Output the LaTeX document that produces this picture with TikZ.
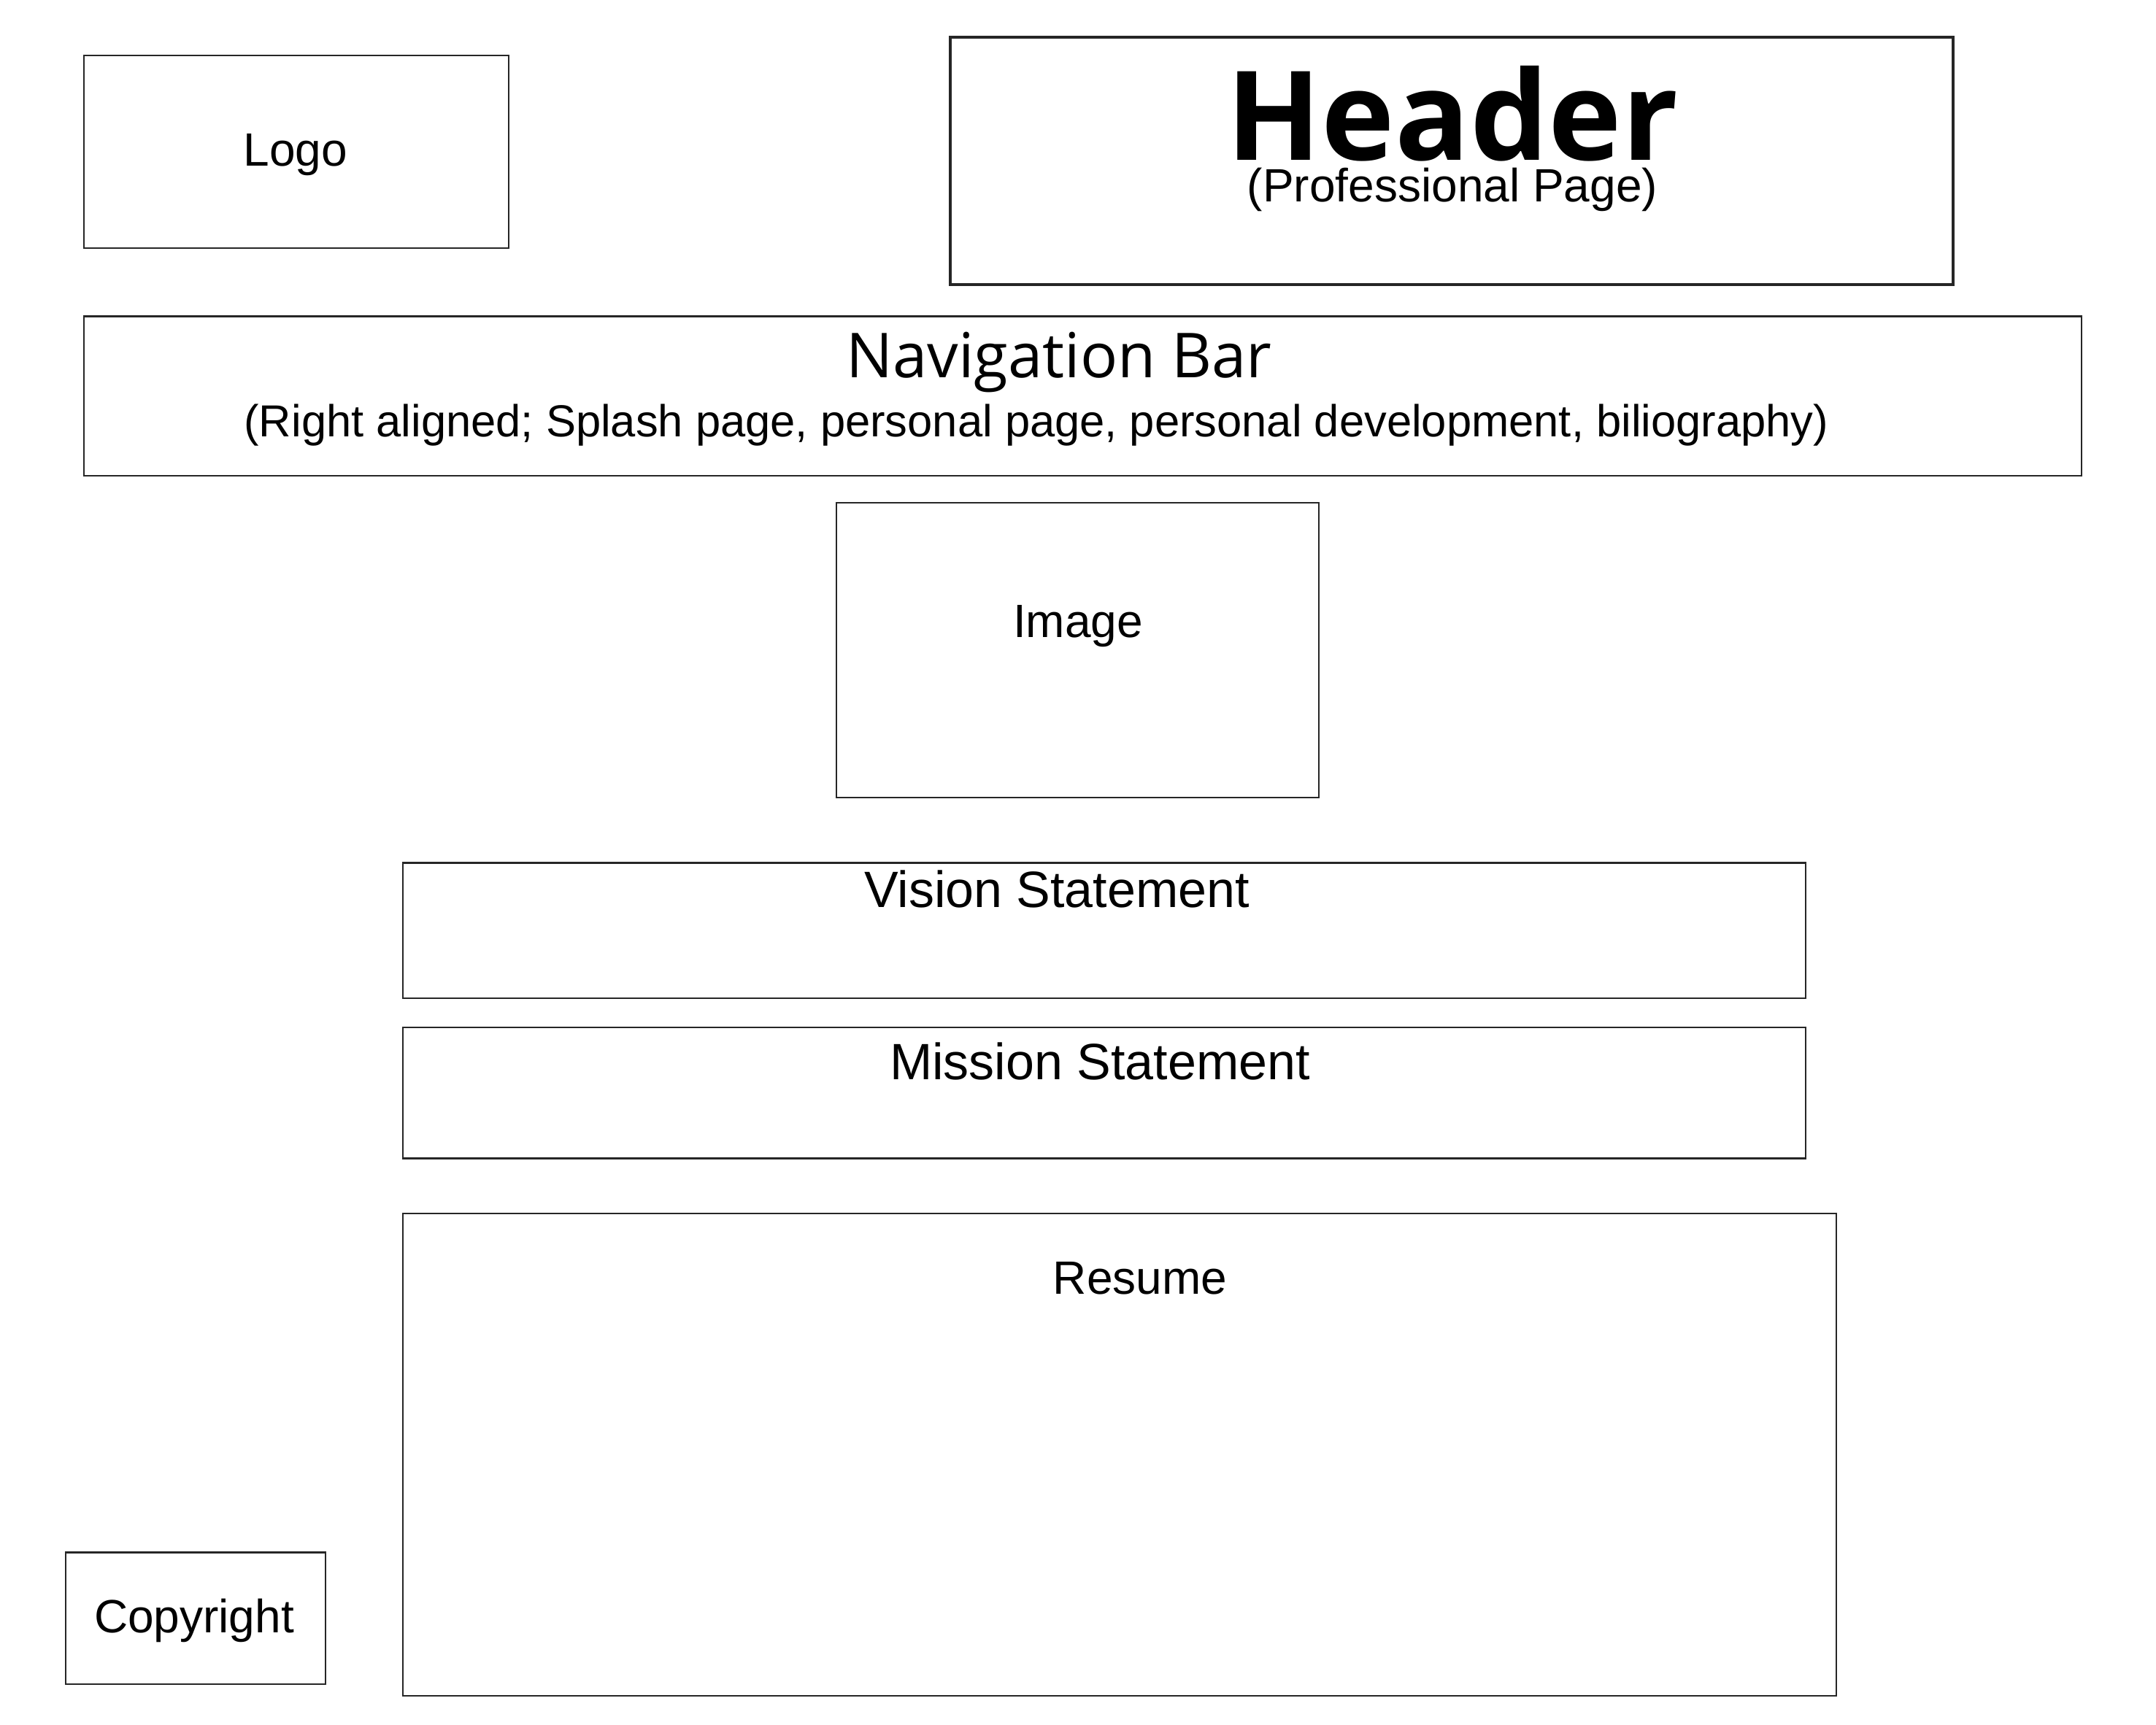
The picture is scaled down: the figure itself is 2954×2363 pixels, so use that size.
\documentclass[tikz,border=0pt]{standalone}
\usepackage{fontspec}
\setmainfont{Liberation Sans}
\newfontfamily\opensans{Open Sans}
\begin{document}
\begin{tikzpicture}[x=1pt,y=-1pt,
  wbox/.style={draw=black!85, line width=2.5pt, rectangle, inner sep=0pt, outer sep=0pt},
  lbl/.style={anchor=base, inner sep=0pt, outer sep=0pt, font=\fontsize{64}{76}\selectfont},
  stmt/.style={anchor=base, inner sep=0pt, outer sep=0pt, font=\fontsize{70}{84}\selectfont}]
\useasboundingbox (0,0) rectangle (2954,2363);
\fill[white] (0,0) rectangle (2954,2363);

% layout boxes
\node[wbox, minimum width=582pt, minimum height=264pt] (logo) at (406,208) {};
\node[wbox, line width=3.5pt, minimum width=1374pt, minimum height=339pt] (header) at (1989,220.5) {};
\node[wbox, minimum width=2737pt, minimum height=218.5pt] (nav) at (1483.5,542.75) {};
\node[wbox, minimum width=661pt, minimum height=404pt] (image) at (1476.5,891) {};
\node[wbox, minimum width=1922pt, minimum height=185.5pt] (vision) at (1513,1275.25) {};
\node[wbox, minimum width=1922pt, minimum height=179.5pt] (mission) at (1513,1497.75) {};
\node[wbox, minimum width=1964pt, minimum height=661pt] (resume) at (1534,1993.5) {};
\node[wbox, minimum width=356pt, minimum height=180.5pt] (copyright) at (268,2217.75) {};

% labels
\node[anchor=base, inner sep=0pt, font=\opensans\bfseries\fontsize{170}{200}\selectfont] (headertxt) at (1990,219) {Header};
\node[lbl] (headersub) at (1990,276) {(Professional Page)};
\node[anchor=base, inner sep=0pt, font=\opensans\fontsize{85}{100}\selectfont] (navtxt) at (1451,517) {Navigation Bar};
\node[lbl, font=\fontsize{61.5}{74}\selectfont] (navsub) at (1420,598) {(Right aligned; Splash page, personal page, personal development, biliography)};
\node[lbl] (logotxt) at (405,227) {Logo};
\node[lbl] (imagetxt) at (1477,873) {Image};
\node[stmt] (visiontxt) at (1448,1243) {Vision Statement};
\node[stmt] (missiontxt) at (1507,1479) {Mission Statement};
\node[lbl] (resumetxt) at (1562,1773) {Resume};
\node[lbl] (copytxt) at (266,2237) {Copyright};
\end{tikzpicture}
\end{document}
